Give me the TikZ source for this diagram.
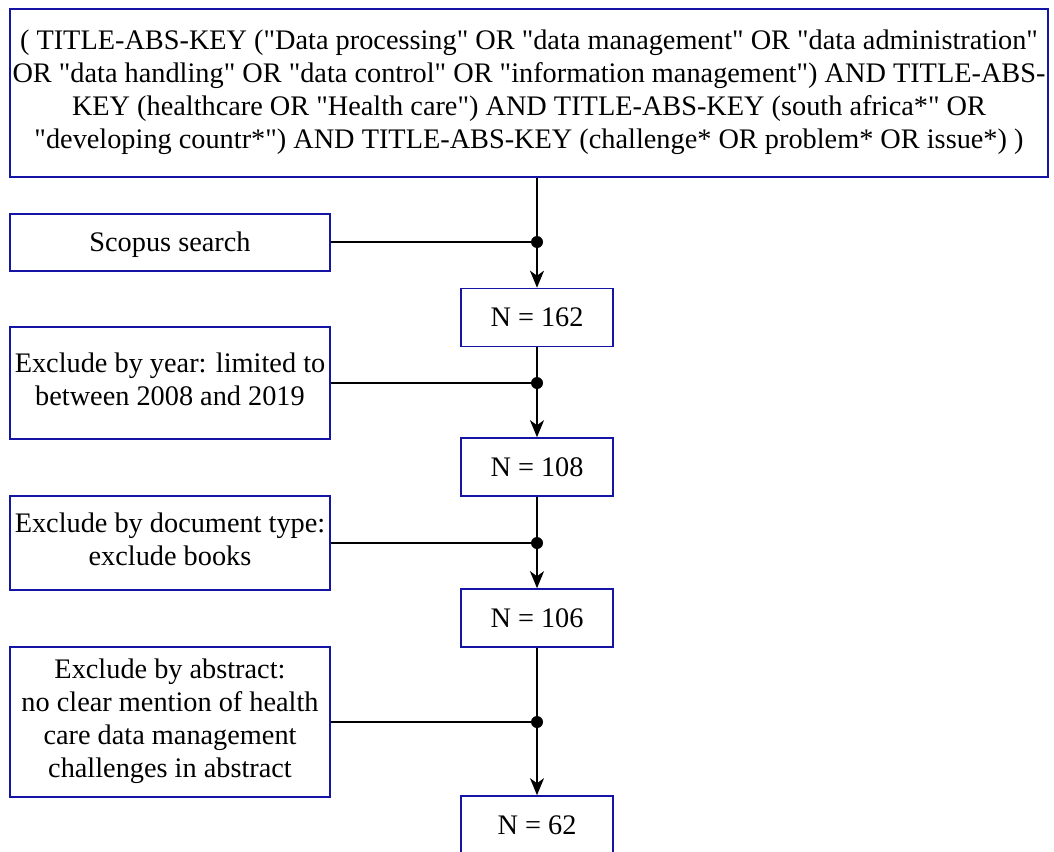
\documentclass[tikz,border=0pt]{standalone}
\usepackage{fontspec}
\setmainfont{Liberation Serif}[Ligatures=TeXOff]
\newfontfamily\boxfont{Liberation Serif}[Ligatures=TeXOff]
\usetikzlibrary{arrows.meta}
\definecolor{boxblue}{RGB}{20,20,165}
% invisible strut giving each text line a fixed line box
\newcommand\lnstrut{\rule[-0.25em]{0pt}{1.166em}}
\begin{document}
\begin{tikzpicture}[x=1pt,y=-1pt,
  box/.style={draw=boxblue, line width=1.6pt, align=center, inner sep=0pt,
    font=\boxfont\fontsize{28.3}{33}\selectfont,
    execute at begin node=\lnstrut, execute at end node=\lnstrut},
  flow/.style={line width=1.8pt, -{Stealth[length=17pt,width=14pt,inset=5pt]}},
  feed/.style={line width=1.8pt},
  junction/.style={circle, fill=black, inner sep=0pt, minimum size=12pt}
]
\useasboundingbox (0,0) rectangle (1054,851);

% query box
\node[box, minimum width=1038pt, minimum height=168pt] (query) at (529,93)
  {( TITLE-ABS-KEY ("Data processing" OR "data management" OR "data administration"\\
   OR "data handling" OR "data control" OR "information management") AND TITLE-ABS-\\
   KEY (healthcare OR "Health care") AND TITLE-ABS-KEY (south africa*" OR\\
   "developing countr*") AND TITLE-ABS-KEY (challenge* OR problem* OR issue*) )};

% left-hand step boxes
\node[box, minimum width=320pt, minimum height=57pt] (scopus) at (170,242.5) {Scopus search};
\node[box, minimum width=320pt, minimum height=112pt] (year) at (170,383)
  {Exclude by year: limited to\\ between 2008 and 2019};
\node[box, minimum width=320pt, minimum height=94pt] (doctype) at (170,543)
  {Exclude by document type:\\ exclude books};
\node[box, minimum width=320pt, minimum height=150pt] (abstract) at (170,722)
  {Exclude by abstract:\\ no clear mention of health\\ care data management\\ challenges in abstract};

% count boxes
\node[box, minimum width=152pt, minimum height=58pt] (n162) at (537,317.5) {N = 162};
\node[box, minimum width=152pt, minimum height=58pt] (n108) at (537,467) {N = 108};
\node[box, minimum width=152pt, minimum height=58pt] (n106) at (537,618) {N = 106};
\node[box, minimum width=152pt, minimum height=58pt] (n62) at (537,825) {N = 62};

% junction points on the main line
\coordinate (j1) at ([yshift=0.5pt]n162.north |- scopus.east);
\coordinate (j2) at (n162.south |- year.east);
\coordinate (j3) at (n108.south |- doctype.east);
\coordinate (j4) at (n106.south |- abstract.east);

% main flow
\draw[flow] (n162.north |- query.south) -- (n162.north);
\draw[flow] (n162.south) -- (n108.north);
\draw[flow] (n108.south) -- (n106.north);
\draw[flow] (n106.south) -- (n62.north);

% side feeds
\draw[feed] (scopus.east |- j1) -- (j1);
\draw[feed] (year.east) -- (j2);
\draw[feed] (doctype.east) -- (j3);
\draw[feed] (abstract.east) -- (j4);

\node[junction] at (j1) {};
\node[junction] at (j2) {};
\node[junction] at (j3) {};
\node[junction] at (j4) {};
\end{tikzpicture}
\end{document}
